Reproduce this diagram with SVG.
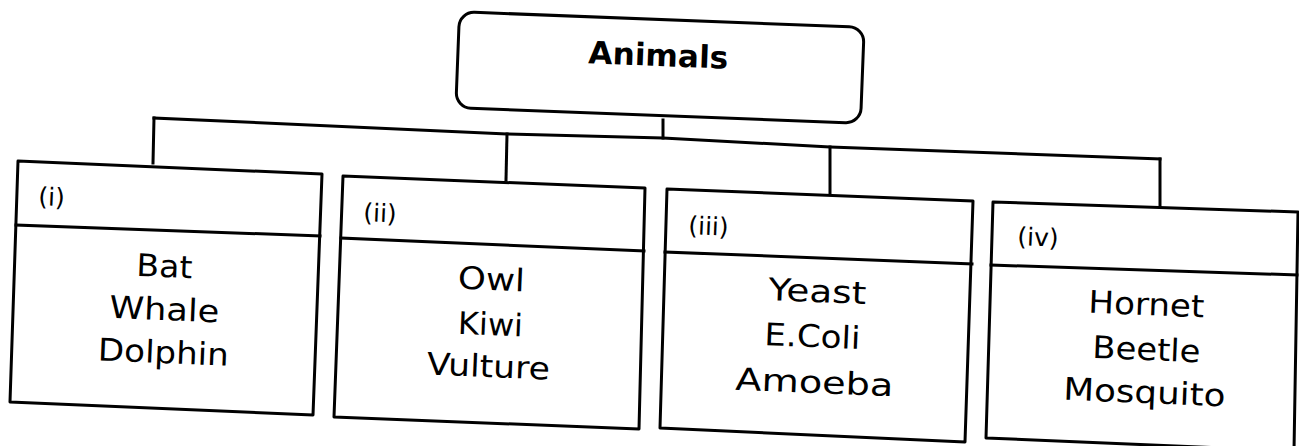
<svg xmlns="http://www.w3.org/2000/svg" width="1299" height="446" viewBox="0 0 1299 446">
<style>
.box{fill:#fff;stroke:#000;stroke-width:3;stroke-linejoin:round}
.ln{fill:none;stroke:#000;stroke-width:3;stroke-linecap:square}
.t{font-family:"DejaVu Sans","Liberation Sans",sans-serif;font-size:31px;fill:#000;text-anchor:middle}
.lb{font-family:"DejaVu Sans","Liberation Sans",sans-serif;font-size:25px;fill:#000}
.h{font-family:"DejaVu Sans","Liberation Sans",sans-serif;font-size:31px;font-weight:bold;fill:#000;text-anchor:middle}
</style>
<rect width="1299" height="446" fill="#fff"/>
<g id="connectors">
<line class="ln" x1="663" y1="120" x2="663" y2="138"/>
<polyline class="ln" points="154,118 507,134 663,138 830,147 1160,159"/>
<line class="ln" x1="154" y1="118" x2="153" y2="163"/>
<line class="ln" x1="507" y1="134" x2="506" y2="180"/>
<line class="ln" x1="830" y1="147" x2="830" y2="194"/>
<line class="ln" x1="1160" y1="159" x2="1160" y2="206"/>
</g>
<g id="animals">
<rect class="box" x="457.5" y="19.5" width="405" height="96" rx="15" transform="rotate(2.2 660 67.5)"/>
<text class="h" x="658" y="66" textLength="140" lengthAdjust="spacingAndGlyphs" transform="rotate(2.2 658 66)">Animals</text>
</g>
<g id="box-i">
<polygon class="box" points="18,161 322,174 313,415 10,402"/>
<line class="ln" x1="16" y1="225" x2="320" y2="236"/>
<text class="lb" x="38" y="205" transform="rotate(2.4 38 205)">(i)</text>
<text class="t" x="164" y="277" textLength="56" lengthAdjust="spacingAndGlyphs" transform="rotate(2.4 164 277)">Bat</text>
<text class="t" x="164" y="320" textLength="110" lengthAdjust="spacingAndGlyphs" transform="rotate(2.4 164 320)">Whale</text>
<text class="t" x="163" y="363" textLength="131" lengthAdjust="spacingAndGlyphs" transform="rotate(2.4 163 363)">Dolphin</text>
</g>
<g id="box-ii">
<polygon class="box" points="343,176 645,188 639,429 334,417"/>
<line class="ln" x1="341" y1="238" x2="644" y2="251"/>
<text class="lb" x="363" y="221" transform="rotate(2.4 363 221)">(ii)</text>
<text class="t" x="491" y="290" textLength="67" lengthAdjust="spacingAndGlyphs" transform="rotate(2.4 491 290)">Owl</text>
<text class="t" x="490" y="335" textLength="65" lengthAdjust="spacingAndGlyphs" transform="rotate(2.4 490 335)">Kiwi</text>
<text class="t" x="488" y="377" textLength="123" lengthAdjust="spacingAndGlyphs" transform="rotate(2.4 488 377)">Vulture</text>
</g>
<g id="box-iii">
<polygon class="box" points="667,189 973,201 965,442 660,428"/>
<line class="ln" x1="665" y1="252" x2="972" y2="264"/>
<text class="lb" x="688" y="234" transform="rotate(2.4 688 234)">(iii)</text>
<text class="t" x="817" y="302" textLength="98" lengthAdjust="spacingAndGlyphs" transform="rotate(2.4 817 302)">Yeast</text>
<text class="t" x="812" y="347" textLength="96" lengthAdjust="spacingAndGlyphs" transform="rotate(2.4 812 347)">E.Coli</text>
<text class="t" x="814" y="393" textLength="158" lengthAdjust="spacingAndGlyphs" transform="rotate(2.4 814 393)">Amoeba</text>
</g>
<g id="box-iv">
<polygon class="box" points="993,202 1298,212 1294,451 986,438"/>
<line class="ln" x1="991" y1="265" x2="1297" y2="275"/>
<text class="lb" x="1017" y="245" transform="rotate(2.4 1017 245)">(iv)</text>
<text class="t" x="1146" y="315" textLength="116" lengthAdjust="spacingAndGlyphs" transform="rotate(2.4 1146 315)">Hornet</text>
<text class="t" x="1146" y="360" textLength="108" lengthAdjust="spacingAndGlyphs" transform="rotate(2.4 1146 360)">Beetle</text>
<text class="t" x="1144" y="403" textLength="162" lengthAdjust="spacingAndGlyphs" transform="rotate(2.4 1144 403)">Mosquito</text>
</g>
</svg>
